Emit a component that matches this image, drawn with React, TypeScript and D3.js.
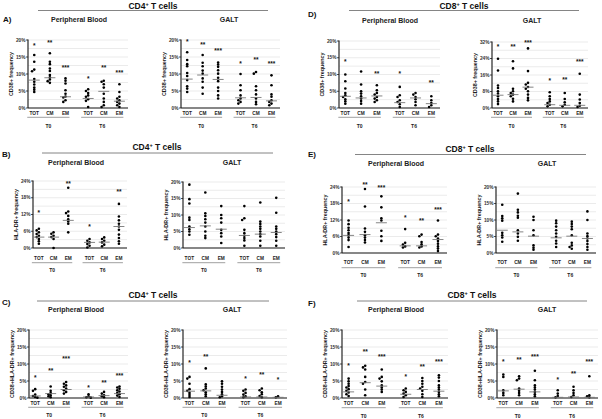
import React from 'react';
import * as d3 from 'd3';

// ---------- DATA ----------
const categories = ['TOT', 'CM', 'EM', 'TOT', 'CM', 'EM'];
const groups = ['T0', 'T6'];
const catPos = [0, 1, 2, 3.45, 4.45, 5.45];

// Panel A – CD4 CD38+
const A_PB_dots = [
  [15.6, 13.6, 11.3, 10.8, 8.5, 7.7, 6.9, 6.0, 5.4, 4.7],
  [16.1, 13.6, 12.9, 11.6, 10.9, 9.7, 9.0, 8.4, 7.9, 7.4],
  [8.7, 8.0, 7.2, 5.2, 4.2, 3.4, 3.1, 2.3, 1.8],
  [5.5, 5.0, 4.4, 3.7, 3.3, 2.6, 2.1, 0.3],
  [8.0, 7.7, 7.0, 6.0, 4.2, 2.8, 1.8, 0.8, 0.3],
  [7.0, 4.7, 3.3, 2.8, 2.3, 1.8, 1.3, 0.8, 0.3],
];
const A_PB_med = [8.2, 8.9, 3.3, 2.8, 4.9, 2.0];
const A_PB_stars = ['*', '**', '***', '*', '**', '***'];
const A_PB_starV = [18.5, 19.5, 12.1, 9.0, 12.1, 10.6];

const A_GALT_dots = [
  [16.4, 14.1, 12.9, 12.3, 10.3, 9.4, 8.2, 6.4, 5.7, 4.7],
  [15.6, 13.3, 12.3, 11.0, 10.1, 8.7, 7.7, 6.0, 4.2],
  [13.4, 12.8, 12.1, 11.1, 10.1, 8.9, 7.9, 6.0, 5.0, 3.7, 2.8],
  [10.0, 6.7, 5.2, 3.7, 2.8, 2.3, 1.8, 1.3],
  [10.6, 10.1, 6.4, 5.2, 4.0, 2.8, 1.8, 1.1],
  [9.6, 6.7, 4.0, 3.3, 2.3, 1.8, 1.3, 0.8],
];
const A_GALT_med = [8.5, 9.7, 8.4, 3.0, 3.1, 2.1];
const A_GALT_stars = ['*', '**', '***', '*', '**', '***'];
const A_GALT_starV = [19.7, 18.8, 17.2, 13.3, 14.4, 13.4];

// Panel D – CD8 CD38+
const D_PB_dots = [
  [10.0, 8.0, 5.8, 4.5, 3.8, 3.3, 2.6, 2.0, 1.3],
  [10.9, 7.0, 5.0, 4.3, 3.5, 2.8, 2.1, 1.3],
  [6.8, 5.3, 4.5, 4.0, 3.3, 2.8, 2.3, 1.8],
  [6.3, 3.8, 3.3, 2.3, 1.8, 1.1, 0.3],
  [4.5, 4.0, 3.3, 2.6, 1.8, 0.8],
  [3.5, 2.3, 1.5, 0.8, 0.3],
];
const D_PB_med = [3.5, 3.0, 3.6, 1.6, 3.0, 1.3];
const D_PB_stars = ['*', '', '**', '*', '', '**'];
const D_PB_starV = [14.2, 0, 10.5, 10.4, 0, 7.8];

const D_GALT_dots = [
  [23.9, 18.2, 10.9, 9.7, 8.1, 7.0, 5.7, 4.4, 3.2, 1.9],
  [22.7, 19.2, 9.3, 8.1, 7.3, 6.5, 5.7, 4.5, 3.2],
  [28.9, 17.9, 12.2, 11.4, 10.2, 9.3, 8.1, 6.5, 4.9, 3.7],
  [7.6, 5.7, 4.4, 3.2, 2.4, 1.6, 0.8],
  [7.3, 4.4, 2.8, 1.6, 0.8],
  [16.6, 6.5, 4.1, 2.4, 1.1, 0.5],
];
const D_GALT_med = [6.2, 6.5, 10.1, 1.6, 1.3, 1.3];
const D_GALT_stars = ['*', '**', '***', '*', '**', '***'];
const D_GALT_starV = [30.0, 30.0, 32.1, 13.8, 14.3, 22.7];

// Panel B – CD4 HLA-DR+
const B_PB_dots = [
  [6.9, 6.3, 5.6, 5.0, 4.4, 3.9, 3.2, 2.4, 1.5],
  [5.6, 5.1, 4.4, 3.9, 3.2, 0.0],
  [21.6, 13.1, 12.5, 11.5, 10.3, 9.5, 8.7, 5.6],
  [3.2, 2.6, 2.0, 1.4, 0.8, 0.2],
  [3.8, 3.2, 2.6, 2.0, 1.2, 0.6],
  [15.8, 11.3, 9.9, 8.7, 7.7, 6.5, 4.8, 3.6, 2.4, 1.5],
];
const B_PB_med = [3.9, 3.9, 9.9, 2.0, 2.1, 7.7];
const B_PB_stars = ['*', '', '**', '*', '', '**'];
const B_PB_starV = [13.1, 0, 23.4, 8.0, 0, 20.4];

const B_GALT_dots = [
  [19.2, 14.8, 13.5, 9.2, 8.5, 6.5, 5.7, 5.0, 4.0],
  [16.8, 10.5, 9.7, 8.7, 7.7, 6.5, 5.0, 3.7, 3.0],
  [12.7, 10.0, 9.0, 7.7, 5.5, 4.5, 3.5, 1.5],
  [12.7, 9.0, 8.5, 5.5, 4.5, 3.7, 3.0, 2.3, 0.7],
  [13.8, 8.0, 7.3, 6.5, 5.8, 5.0, 4.2, 3.5, 2.2, 0.7],
  [15.2, 10.7, 6.5, 5.8, 5.0, 4.2, 3.3, 2.2, 0.7],
];
const B_GALT_med = [6.2, 6.7, 5.7, 3.8, 4.2, 4.7];
const B_GALT_stars = ['', '', '', '', '', ''];
const B_GALT_starV = [0, 0, 0, 0, 0, 0];

// Panel E – CD8 HLA-DR+
const E_PB_dots = [
  [11.8, 10.5, 9.2, 8.3, 7.3, 6.5, 5.6, 4.7, 2.2],
  [23.3, 16.9, 8.9, 7.7, 6.5, 5.6, 4.7, 3.8],
  [20.6, 16.6, 12.6, 11.8, 8.1, 6.1, 4.4],
  [8.7, 3.7, 3.1, 2.4, 2.0],
  [6.7, 6.1, 4.0, 3.2, 2.4, 2.0],
  [11.8, 6.7, 6.1, 5.3, 4.4, 3.4, 2.4, 1.6, 0.7],
];
const E_PB_med = [6.4, 6.7, 11.0, 2.6, 2.6, 4.9];
const E_PB_stars = ['*', '**', '***', '*', '**', '***'];
const E_PB_starV = [19.1, 25.1, 24.0, 13.0, 12.0, 16.0];

const E_GALT_dots = [
  [14.6, 11.2, 10.5, 9.8, 6.1, 5.4, 4.7, 3.4],
  [18.0, 13.1, 12.3, 11.3, 10.7, 6.9, 5.9, 4.9, 3.7],
  [11.0, 10.0, 6.9, 5.4, 2.3, 1.6, 1.0],
  [9.8, 9.0, 8.0, 6.9, 5.9, 4.9, 3.7, 2.9, 1.8],
  [9.5, 8.8, 8.0, 7.2, 5.4, 3.1, 2.3, 1.8, 1.3],
  [12.6, 10.0, 5.9, 5.1, 4.4, 3.6, 2.7, 1.8, 1.0],
];
const E_GALT_med = [6.9, 6.4, 5.1, 4.6, 5.1, 4.4];
const E_GALT_stars = ['', '', '', '', '', ''];
const E_GALT_starV = [0, 0, 0, 0, 0, 0];

// Panel C – CD4 CD38+HLA-DR+
const C_PB_dots = [
  [2.6, 2.1, 1.0, 0.6, 0.3, 0.1],
  [3.4, 2.1, 1.5, 1.1, 0.8, 0.5, 0.2],
  [4.7, 4.2, 3.7, 3.3, 2.8, 2.3, 1.8, 1.3],
  [1.1, 0.5, 0.2, 0.1],
  [1.8, 1.3, 0.8, 0.5, 0.2],
  [3.4, 3.1, 2.7, 2.3, 1.9, 1.5, 1.1, 0.7, 0.3],
];
const C_PB_med = [0.6, 1.3, 2.5, 0.3, 0.7, 1.3];
const C_PB_stars = ['*', '**', '***', '*', '**', '***'];
const C_PB_starV = [6.2, 8.2, 11.9, 3.4, 4.7, 6.9];

const C_GALT_dots = [
  [6.2, 5.7, 4.2, 2.6, 2.1, 1.5, 0.9, 0.3],
  [8.7, 4.0, 3.4, 2.8, 2.3, 1.7, 1.1, 0.5],
  [4.9, 4.2, 3.3, 2.5, 1.8, 1.1, 0.5, 0.2],
  [2.5, 2.1, 1.5, 1.0, 0.5, 0.2],
  [2.8, 2.3, 1.7, 1.1, 0.6, 0.2],
  [0.5, 0.2],
];
const C_GALT_med = [2.0, 2.1, 0.8, 0.3, 0.3, 0.2];
const C_GALT_stars = ['*', '**', '', '*', '**', '*'];
const C_GALT_starV = [10.6, 12.3, 0, 6.0, 7.0, 5.7];

// Panel F – CD8 CD38+HLA-DR+
const F_PB_dots = [
  [5.7, 4.9, 4.2, 3.5, 3.1, 2.6, 2.1, 1.6, 1.1, 0.6],
  [9.5, 9.0, 8.4, 6.2, 4.7, 4.2, 2.5, 0.8],
  [8.4, 6.2, 5.7, 4.9, 3.7, 3.1, 2.5, 1.8],
  [2.8, 2.3, 1.8, 1.3, 0.8, 0.3],
  [5.9, 5.0, 4.2, 3.3, 2.8, 2.1, 1.1, 0.3],
  [6.7, 6.0, 5.0, 3.7, 3.1, 2.5, 1.8, 1.1, 0.5],
];
const F_PB_med = [1.8, 4.5, 3.5, 1.1, 2.5, 2.0];
const F_PB_stars = ['*', '**', '***', '*', '**', '***'];
const F_PB_starV = [9.7, 13.8, 12.3, 6.4, 9.5, 10.9];

const F_GALT_dots = [
  [6.9, 6.2, 2.3, 1.5, 0.8],
  [6.4, 5.7, 5.2, 2.8, 2.1, 1.5, 0.8],
  [8.0, 5.2, 3.7, 3.1, 2.5, 1.8, 1.1, 0.5],
  [2.3, 1.3, 0.6, 0.2],
  [3.3, 2.3, 1.5, 0.8, 0.3],
  [6.4, 0.8, 0.5, 0.2],
];
const F_GALT_med = [2.1, 2.6, 1.8, 0.2, 0.3, 0.2];
const F_GALT_stars = ['*', '**', '***', '*', '**', '***'];
const F_GALT_starV = [10.9, 11.4, 12.3, 5.7, 7.4, 10.8];

// ---------- LAYOUT ----------
const FONT = "'Liberation Sans', Arial, Helvetica, sans-serif";

type Panel = {
  title: string; tx: number; ty: number;
  x: number; top: number; bottom: number; w: number;
  max: number; step: number; ylabel: string;
  catY: number; lineY: number; grpY: number;
  dots: number[][]; med: number[]; stars: string[]; starV: number[];
};

const panels: Panel[] = [
  { title: 'Peripheral Blood', tx: 79, ty: 22, x: 28, top: 40, bottom: 108, w: 100, max: 20, step: 5, ylabel: 'CD38+ frequency', catY: 114.5, lineY: 117.3, grpY: 128, dots: A_PB_dots, med: A_PB_med, stars: A_PB_stars, starV: A_PB_starV },
  { title: 'GALT', tx: 229, ty: 22, x: 181, top: 40, bottom: 108, w: 99, max: 20, step: 5, ylabel: 'CD38+ frequency', catY: 114.5, lineY: 117.3, grpY: 128, dots: A_GALT_dots, med: A_GALT_med, stars: A_GALT_stars, starV: A_GALT_starV },
  { title: 'Peripheral Blood', tx: 390, ty: 22.5, x: 339, top: 41, bottom: 108, w: 101, max: 20, step: 5, ylabel: 'CD38+ frequency', catY: 114.5, lineY: 117.3, grpY: 128, dots: D_PB_dots, med: D_PB_med, stars: D_PB_stars, starV: D_PB_starV },
  { title: 'GALT', tx: 532, ty: 22.5, x: 492, top: 42, bottom: 108, w: 96, max: 32, step: 8, ylabel: 'CD38+ frequency', catY: 114.5, lineY: 117.3, grpY: 128, dots: D_GALT_dots, med: D_GALT_med, stars: D_GALT_stars, starV: D_GALT_starV },
  { title: 'Peripheral Blood', tx: 76, ty: 165, x: 33, top: 181, bottom: 248, w: 94, max: 24, step: 6, ylabel: 'HLA-DR+ frequency', catY: 260, lineY: 262.7, grpY: 272, dots: B_PB_dots, med: B_PB_med, stars: B_PB_stars, starV: B_PB_starV },
  { title: 'GALT', tx: 232, ty: 165, x: 183, top: 182, bottom: 248, w: 102, max: 20, step: 5, ylabel: 'HLA-DR+ frequency', catY: 260, lineY: 262.7, grpY: 272, dots: B_GALT_dots, med: B_GALT_med, stars: B_GALT_stars, starV: B_GALT_starV },
  { title: 'Peripheral Blood', tx: 396, ty: 166, x: 342, top: 187, bottom: 253, w: 105, max: 24, step: 6, ylabel: 'HLA-DR+ frequency', catY: 264, lineY: 267.7, grpY: 277, dots: E_PB_dots, med: E_PB_med, stars: E_PB_stars, starV: E_PB_starV },
  { title: 'GALT', tx: 547, ty: 166, x: 496, top: 187, bottom: 253, w: 100, max: 20, step: 5, ylabel: 'HLA-DR+ frequency', catY: 264, lineY: 267.7, grpY: 277, dots: E_GALT_dots, med: E_GALT_med, stars: E_GALT_stars, starV: E_GALT_starV },
  { title: 'Peripheral Blood', tx: 76, ty: 312, x: 29, top: 330, bottom: 398, w: 99, max: 20, step: 5, ylabel: 'CD38+HLA-DR+ frequency', catY: 404.5, lineY: 407.3, grpY: 417, dots: C_PB_dots, med: C_PB_med, stars: C_PB_stars, starV: C_PB_starV },
  { title: 'GALT', tx: 232, ty: 312, x: 183, top: 330, bottom: 398, w: 104, max: 20, step: 5, ylabel: 'CD38+HLA-DR+ frequency', catY: 404.5, lineY: 407.3, grpY: 417, dots: C_GALT_dots, med: C_GALT_med, stars: C_GALT_stars, starV: C_GALT_starV },
  { title: 'Peripheral Blood', tx: 396, ty: 312, x: 342, top: 330, bottom: 398, w: 106, max: 20, step: 5, ylabel: 'CD38+HLA-DR+ frequency', catY: 405, lineY: 407.7, grpY: 417.7, dots: F_PB_dots, med: F_PB_med, stars: F_PB_stars, starV: F_PB_starV },
  { title: 'GALT', tx: 547, ty: 312, x: 497, top: 330, bottom: 398, w: 101, max: 20, step: 5, ylabel: 'CD38+HLA-DR+ frequency', catY: 405, lineY: 407.7, grpY: 417.7, dots: F_GALT_dots, med: F_GALT_med, stars: F_GALT_stars, starV: F_GALT_starV },
];

const headers = [
  { cell: 'CD4', cx: 153, ty: 9, ly: 10.5, x1: 38, x2: 268 },
  { cell: 'CD8', cx: 464, ty: 9, ly: 10.5, x1: 349, x2: 579 },
  { cell: 'CD4', cx: 157, ty: 150, ly: 153, x1: 42, x2: 273 },
  { cell: 'CD8', cx: 470, ty: 152, ly: 154.5, x1: 355, x2: 586 },
  { cell: 'CD4', cx: 153, ty: 298, ly: 301, x1: 37, x2: 269 },
  { cell: 'CD8', cx: 472, ty: 298, ly: 301, x1: 357, x2: 587 },
];

const letters = [
  { t: 'A)', x: 3, y: 22 },
  { t: 'D)', x: 308, y: 17 },
  { t: 'B)', x: 2, y: 157 },
  { t: 'E)', x: 308, y: 157 },
  { t: 'C)', x: 2, y: 305 },
  { t: 'F)', x: 308, y: 306 },
];

function layoutColumn(vals: number[], cx: number, y: d3.ScaleLinear<number, number>) {
  const placed: { x: number; y: number }[] = [];
  const offsets = [0, -2.2, 2.2, -4.4, 4.4];
  vals.forEach((v) => {
    const py = y(v);
    for (const o of offsets) {
      const px = cx + o;
      if (!placed.some((p) => Math.hypot(p.x - px, p.y - py) < 1.9)) {
        placed.push({ x: px, y: py });
        return;
      }
    }
    placed.push({ x: cx, y: py });
  });
  return placed;
}

function PanelView({ p }: { p: Panel }) {
  const y = d3.scaleLinear().domain([0, p.max]).range([p.bottom, p.top]);
  const x = d3.scaleLinear().domain([-0.4, 6.0]).range([p.x, p.x + p.w]);
  const ticks = d3.range(0, p.max + 0.001, p.step);
  const grid = d3.range(p.step / 2, p.max + 0.001, p.step / 2);
  const cy = (p.top + p.bottom) / 2;
  return (
    <g>
      <text x={p.tx} y={p.ty} textAnchor="middle" fontSize={7} fontWeight="bold" fill="#222">{p.title}</text>
      {grid.map((g) => (
        <line key={'g' + g} x1={p.x} x2={p.x + p.w} y1={y(g)} y2={y(g)} stroke="#e2e2e2" strokeWidth={0.7} />
      ))}
      {ticks.map((t) => (
        <g key={'t' + t}>
          <line x1={p.x - 2} x2={p.x} y1={y(t)} y2={y(t)} stroke="#222" strokeWidth={0.8} />
          <text x={p.x - 2.5} y={y(t) + 1.7} textAnchor="end" fontSize={4.8} fontWeight="bold" fill="#333">{t + '%'}</text>
        </g>
      ))}
      <line x1={p.x} x2={p.x} y1={p.top - 0.5} y2={p.bottom} stroke="#111" strokeWidth={1.1} />
      <line x1={p.x} x2={p.x + p.w} y1={p.bottom} y2={p.bottom} stroke="#111" strokeWidth={1.1} />
      <text transform={`translate(${p.x - 15},${cy}) rotate(-90)`} textAnchor="middle" fontSize={5.4} fontWeight="bold" fill="#222">{p.ylabel}</text>
      {p.dots.map((col, i) =>
        layoutColumn(col, x(catPos[i]), y).map((d, j) => (
          <circle key={`d${i}-${j}`} cx={d.x} cy={d.y} r={1.3} fill="#000" />
        ))
      )}
      {p.med.map((m, i) => (
        <line key={'m' + i} x1={x(catPos[i]) - 5.5} x2={x(catPos[i]) + 5.5} y1={y(m)} y2={y(m)} stroke="#777" strokeWidth={0.9} />
      ))}
      {p.stars.map((s, i) =>
        s ? (
          <text key={'s' + i} x={x(catPos[i])} y={y(p.starV[i]) + 3.2} textAnchor="middle" fontSize={6.5} fontWeight="bold" fill="#111">{s}</text>
        ) : null
      )}
      {categories.map((c, i) => (
        <text key={'c' + i} x={x(catPos[i])} y={p.catY} textAnchor="middle" fontSize={4.8} fontWeight="bold" fill="#222">{c}</text>
      ))}
      {groups.map((g, gi) => {
        const a = x(catPos[gi * 3]);
        const b = x(catPos[gi * 3 + 2]);
        return (
          <g key={'gr' + gi}>
            <line x1={a - 7} x2={b + 4} y1={p.lineY} y2={p.lineY} stroke="#888" strokeWidth={0.8} />
            <text x={(a + b) / 2 - 1.5} y={p.grpY} textAnchor="middle" fontSize={5} fontWeight="bold" fill="#222">{g}</text>
          </g>
        );
      })}
    </g>
  );
}

export default function App() {
  return (
    <svg width={602} height={419} viewBox="0 0 602 419" style={{ position: 'absolute', left: 0, top: 0, background: '#fff' }} fontFamily={FONT}>
      <rect x={0} y={0} width={602} height={419} fill="#fff" />
      {headers.map((h, i) => (
        <g key={'h' + i}>
          <text x={h.cx} y={h.ty} textAnchor="middle" fontSize={8.5} fontWeight="bold" fill="#111">
            {h.cell}
            <tspan fontSize={5.5} dy={-3}>+</tspan>
            <tspan dy={3}> T cells</tspan>
          </text>
          <line x1={h.x1} x2={h.x2} y1={h.ly} y2={h.ly} stroke="#777" strokeWidth={0.9} />
        </g>
      ))}
      {letters.map((l) => (
        <text key={l.t} x={l.x} y={l.y} fontSize={8} fontWeight="bold" fill="#111">{l.t}</text>
      ))}
      {panels.map((p, i) => (
        <PanelView key={i} p={p} />
      ))}
    </svg>
  );
}
